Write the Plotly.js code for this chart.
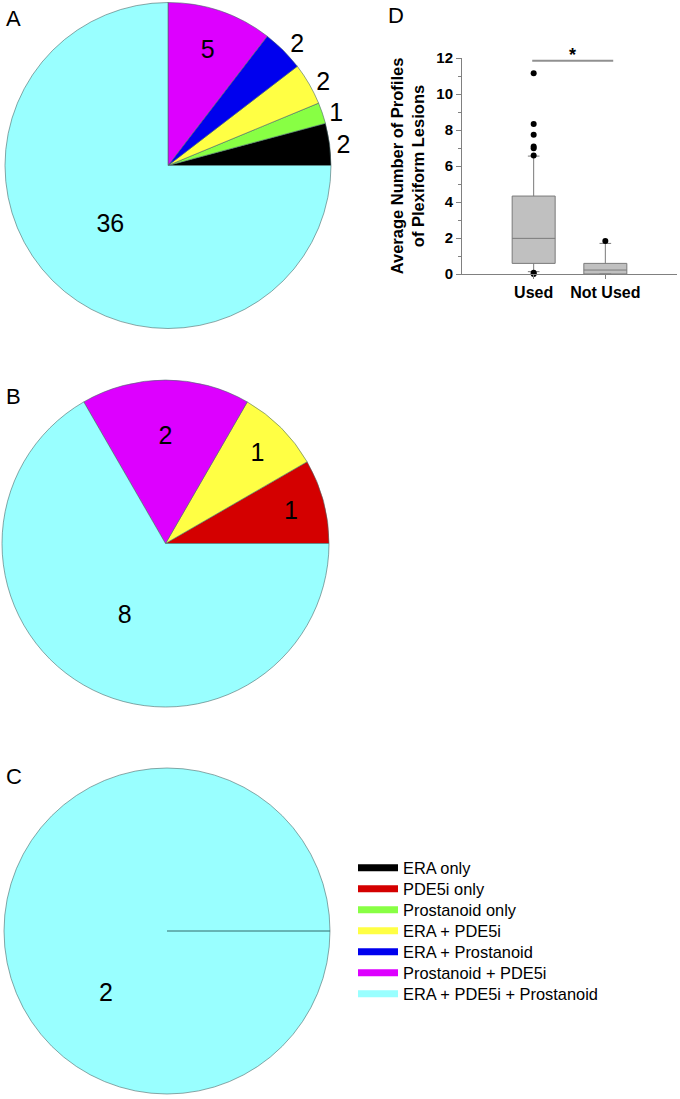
<!DOCTYPE html>
<html>
<head>
<meta charset="utf-8">
<script src="https://cdn.plot.ly/plotly-3.0.1.min.js"></script>
<style>html,body{margin:0;padding:0;background:#fff;}#chart{width:680px;height:1099px;}</style>
</head>
<body>
<div id="chart"></div>
<script>
// ---- Data ----
var categories = ["ERA only", "PDE5i only", "Prostanoid only", "ERA + PDE5i", "ERA + Prostanoid", "Prostanoid + PDE5i", "ERA + PDE5i + Prostanoid"];
var catColors = ["#000000", "#d40000", "#88ff44", "#ffff44", "#0000ee", "#dd00ff", "#99ffff"];

var pieA_labels = ["ERA only", "Prostanoid only", "ERA + PDE5i", "ERA + Prostanoid", "Prostanoid + PDE5i", "ERA + PDE5i + Prostanoid"];
var pieA_values = [2, 1, 2, 2, 5, 36];
var pieA_textpos = ["outside", "outside", "outside", "outside", "inside", "inside"];

var pieB_labels = ["PDE5i only", "ERA + PDE5i", "Prostanoid + PDE5i", "ERA + PDE5i + Prostanoid"];
var pieB_values = [1, 1, 2, 8];

var pieC_labels = ["ERA + PDE5i + Prostanoid"];
var pieC_values = [2];

var boxGroups = ["Used", "Not Used"];
var boxX = [0, 1];
var boxQ1 = [0.59, 0.0];
var boxMedian = [1.98, 0.22];
var boxQ3 = [4.33, 0.59];
var boxLowerFence = [0.13, 0.0];
var boxUpperFence = [6.55, 1.70];

var outlierX = [0, 0, 0, 0, 0, 0, 0, 0, 1];
var outlierY = [11.15, 8.33, 7.73, 7.08, 6.98, 6.58, 0.07, 0.0, 1.83];

var sigBar = {x0: -0.02, x1: 1.11, y: 11.85, label: "*"};

// ---- helpers ----
function colorOf(lbl){ return catColors[categories.indexOf(lbl)]; }
function sum(a){ return a.reduce(function(s, v){ return s + v; }, 0); }
// Plotly (counterclockwise) ends the first slice at `rotation`; make it START at 3 o'clock instead
function startAt3(vals){ return 90 - 360 * vals[0] / sum(vals); }
var H = 1099, W = 680;
function px2x(p){ return p / W; }
function px2y(p){ return 1 - p / H; }

var domA = {x: [px2x(5), px2x(331)], y: [px2y(328.5), px2y(2.5)]};
var domB = {x: [px2x(2), px2x(329)], y: [px2y(707), px2y(380)]};
var domC = {x: [px2x(4), px2x(330)], y: [px2y(1094), px2y(768)]};

var pieFont = {family: "Liberation Sans, Arial, sans-serif", size: 25, color: "#000"};
var sliceLine = {color: "#4a6a6a", width: 0.6};

var traces = [];
traces.push({
  type: "pie", labels: pieA_labels, values: pieA_values,
  marker: {colors: pieA_labels.map(colorOf), line: sliceLine},
  textinfo: "value", textposition: pieA_textpos,
  insidetextorientation: "horizontal",
  textfont: pieFont, outsidetextfont: pieFont, insidetextfont: pieFont,
  sort: false, direction: "counterclockwise", rotation: startAt3(pieA_values),
  domain: domA, showlegend: false, hoverinfo: "label+value"
});
traces.push({
  type: "pie", labels: pieB_labels, values: pieB_values,
  marker: {colors: pieB_labels.map(colorOf), line: sliceLine},
  textinfo: "value", textposition: "inside",
  insidetextorientation: "horizontal",
  textfont: pieFont, insidetextfont: pieFont,
  sort: false, direction: "counterclockwise", rotation: startAt3(pieB_values),
  domain: domB, showlegend: false, hoverinfo: "label+value"
});
traces.push({
  type: "pie", labels: pieC_labels, values: pieC_values,
  marker: {colors: pieC_labels.map(colorOf), line: sliceLine},
  textinfo: "none",
  sort: false, direction: "counterclockwise", rotation: startAt3(pieC_values),
  domain: domC, showlegend: false, hoverinfo: "label+value"
});

// box plot D
for (var i = 0; i < boxGroups.length; i++) {
  traces.push({
    type: "box", name: boxGroups[i], x: [boxX[i]],
    q1: [boxQ1[i]], median: [boxMedian[i]], q3: [boxQ3[i]],
    lowerfence: [boxLowerFence[i]], upperfence: [boxUpperFence[i]],
    width: 0.6, whiskerwidth: 0.27,
    fillcolor: "#c0c0c0", line: {color: "#7a7a7a", width: 1},
    boxpoints: false, showlegend: false, xaxis: "x", yaxis: "y"
  });
}
traces.push({
  type: "scatter", mode: "markers", x: outlierX, y: outlierY,
  marker: {color: "#000", size: 6}, cliponaxis: false,
  showlegend: false, xaxis: "x", yaxis: "y", hoverinfo: "y"
});

// legend entries: one legend per entry so the row pitch matches
var legendLayouts = {};
for (var k = 0; k < categories.length; k++) {
  var lname = k === 0 ? "legend" : "legend" + (k + 1);
  traces.push({
    type: "scatter", mode: "lines", name: categories[k], legend: lname,
    x: [null], y: [null], xaxis: "x2", yaxis: "y2",
    line: {color: catColors[k], width: 7}, showlegend: true, hoverinfo: "skip"
  });
  legendLayouts[lname] = {
    x: px2x(353), y: px2y(868 + 21 * k), xanchor: "left", yanchor: "middle",
    font: {size: 16.4, color: "#000", family: "Liberation Sans, Arial, sans-serif"},
    bgcolor: "rgba(0,0,0,0)", borderwidth: 0, itemwidth: 40,
    itemclick: false, itemdoubleclick: false
  };
}

// pie C label placed at mid-lower-left like the original
var cxC = (domC.x[0] + domC.x[1]) / 2, cyC = (domC.y[0] + domC.y[1]) / 2;
var rCpx = (domC.x[1] - domC.x[0]) * W / 2;
var angC = 225 * Math.PI / 180, rfrac = 0.53;

var annFont = {family: "Liberation Sans, Arial, sans-serif", size: 22, color: "#000"};
var layout = {
  width: W, height: H,
  margin: {l: 0, r: 0, t: 0, b: 0},
  paper_bgcolor: "#fff", plot_bgcolor: "rgba(0,0,0,0)",
  font: {family: "Liberation Sans, Arial, sans-serif", color: "#000"},
  showlegend: true,
  xaxis: {
    domain: [px2x(462), px2x(677)], range: [-1, 2], anchor: "y",
    tickvals: boxX, ticktext: boxGroups.map(function(s){return "<b>" + s + "</b>";}),
    tickfont: {size: 16, color: "#000"}, ticks: "outside", ticklen: 4, tickcolor: "#808080",
    showline: true, linecolor: "#808080", linewidth: 1,
    showgrid: false, zeroline: false, fixedrange: true
  },
  yaxis: {
    domain: [px2y(274), px2y(58)], range: [0, 12], anchor: "x",
    tickvals: [0, 2, 4, 6, 8, 10, 12],
    ticktext: [0, 2, 4, 6, 8, 10, 12].map(function(v){return "<b>" + v + "</b>";}),
    tickfont: {size: 15, color: "#000"}, ticks: "outside", ticklen: 5, tickcolor: "#808080",
    minor: {tickvals: [1, 3, 5, 7, 9, 11], ticks: "outside", ticklen: 3, tickcolor: "#808080", showgrid: false},
    showline: true, linecolor: "#808080", linewidth: 1,
    showgrid: false, zeroline: false, fixedrange: true,
    title: {text: "<b>Average Number of Profiles<br>of Plexiform Lesions</b>", font: {size: 16.5, color: "#000"}, standoff: 7}
  },
  xaxis2: {domain: [0, 0.001], visible: false, anchor: "y2"},
  yaxis2: {domain: [0, 0.001], visible: false, anchor: "x2"},
  shapes: [
    {type: "line", xref: "x", yref: "y", x0: sigBar.x0, x1: sigBar.x1, y0: sigBar.y, y1: sigBar.y,
     line: {color: "#909090", width: 2}},
    {type: "line", xref: "paper", yref: "paper", x0: cxC, y0: cyC, x1: domC.x[1], y1: cyC,
     line: {color: "#336b6b", width: 1}}
  ],
  annotations: [
    {text: "A", x: px2x(4), y: px2y(4), xref: "paper", yref: "paper", xanchor: "left", yanchor: "top", showarrow: false, font: annFont},
    {text: "B", x: px2x(4), y: px2y(382), xref: "paper", yref: "paper", xanchor: "left", yanchor: "top", showarrow: false, font: annFont},
    {text: "C", x: px2x(4), y: px2y(762), xref: "paper", yref: "paper", xanchor: "left", yanchor: "top", showarrow: false, font: annFont},
    {text: "D", x: px2x(386), y: px2y(1), xref: "paper", yref: "paper", xanchor: "left", yanchor: "top", showarrow: false, font: annFont},
    {text: "<b>" + sigBar.label + "</b>", x: (sigBar.x0 + sigBar.x1) / 2, y: sigBar.y, xref: "x", yref: "y",
     yanchor: "bottom", showarrow: false, font: {size: 18, color: "#000"}, yshift: -6},
    {text: String(pieC_values[0]), xref: "paper", yref: "paper",
     x: cxC + Math.cos(angC) * rCpx * rfrac / W, y: cyC + Math.sin(angC) * rCpx * rfrac / H,
     xanchor: "center", yanchor: "middle", showarrow: false, font: pieFont}
  ]
};
for (var ln in legendLayouts) layout[ln] = legendLayouts[ln];

Plotly.newPlot("chart", traces, layout, {displayModeBar: false, staticPlot: true});
</script>
</body>
</html>
